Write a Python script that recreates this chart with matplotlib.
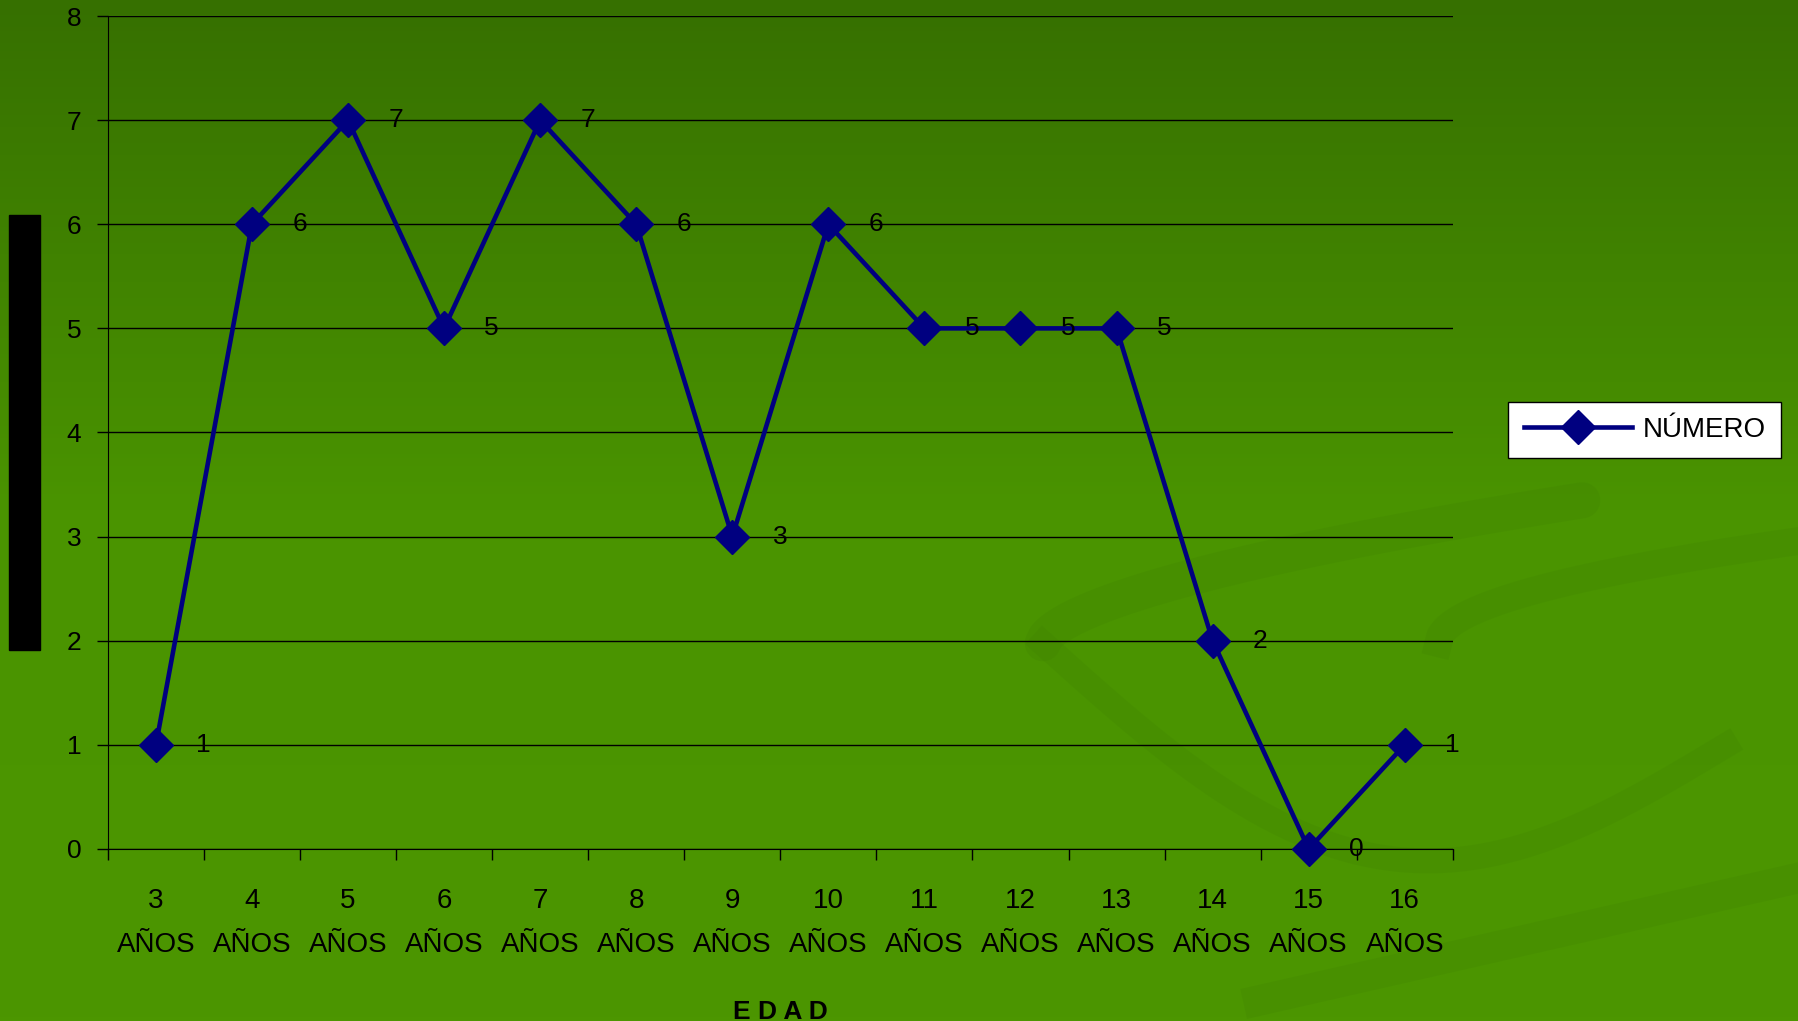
import numpy as np
import matplotlib.pyplot as plt
from matplotlib.patches import Rectangle
from matplotlib.colors import LinearSegmentedColormap

plt.rcParams['font.family'] = ['Liberation Sans', 'DejaVu Sans']

edades = ["3", "4", "5", "6", "7", "8", "9", "10", "11", "12", "13", "14", "15", "16"]
numero = [1, 6, 7, 5, 7, 6, 3, 6, 5, 5, 5, 2, 0, 1]
y_ticks = [0, 1, 2, 3, 4, 5, 6, 7, 8]

fig = plt.figure(figsize=(17.98, 10.21), dpi=100)

# green gradient background
bg = fig.add_axes([0, 0, 1, 1], zorder=-10)
grad = np.linspace(0, 1, 256).reshape(-1, 1)
cmap = LinearSegmentedColormap.from_list("g", ["#367000", "#4a9400", "#4c9600"])
bg.imshow(grad, aspect="auto", cmap=cmap, extent=[0, 1, 0, 1], origin="upper")
bg.set_xlim(0, 1)
bg.set_ylim(0, 1)
bg.axis("off")

# faint decorative swirls
t = np.linspace(0, 1, 200)
sw = "#3a7800"
bg.plot(0.58 + 0.3 * t, 0.37 + 0.14 * t ** 0.6, color=sw, lw=26, alpha=0.16, solid_capstyle="round")
bg.plot(0.58 + 0.38 * t, 0.37 - 0.16 * np.sin(np.pi * t) - 0.1 * t, color=sw, lw=18, alpha=0.15)
bg.plot(0.8 + 0.2 * t, 0.37 + 0.1 * t ** 0.5, color=sw, lw=20, alpha=0.15)
bg.plot(0.7 + 0.3 * t, 0.02 + 0.12 * t, color=sw, lw=22, alpha=0.16)

# black block at the left
bg.add_patch(Rectangle((8 / 1568, 1 - 567 / 890), 27 / 1568, 380 / 890, color="black"))

ax = fig.add_axes([0.060, 0.1685, 0.748, 0.8158])
ax.patch.set_alpha(0)
x = np.arange(len(edades))
ax.plot(x, numero, color="#000080", lw=3.3, marker="D", markersize=17, label="NÚMERO", zorder=5, clip_on=False)
for xi, v in zip(x, numero):
    ax.annotate(str(v), (xi, v), xytext=(29, 0), textcoords="offset points",
                ha="left", va="center", fontsize=19, color="black", zorder=6)

ax.set_xlim(-0.5, len(edades) - 0.5)
ax.set_ylim(0, 8)
ax.set_yticks(y_ticks)
ax.set_yticklabels([str(v) for v in y_ticks], fontsize=19)
ax.yaxis.grid(True, color="black", lw=1)
ax.set_axisbelow(True)
ax.set_xticks(np.arange(len(edades) + 1) - 0.5)
ax.set_xticklabels([])
ax.set_xticks(x, minor=True)
ax.set_xticklabels([e + "\n\nAÑOS" for e in edades], minor=True, fontsize=20, linespacing=0.8)
ax.tick_params(axis="x", which="minor", length=0, pad=28)
ax.tick_params(axis="x", which="major", length=8, width=1, direction="out")
ax.tick_params(axis="y", length=8, width=1, direction="out", pad=11)
for s in ["top", "right"]:
    ax.spines[s].set_visible(False)
ax.spines["left"].set_color("black")
ax.spines["bottom"].set_color("black")
ax.set_xlabel("E D A D", fontsize=19, fontweight="bold", labelpad=30)

leg = ax.legend(loc="center left", bbox_to_anchor=(1.031, 0.503), fontsize=20,
                frameon=True, fancybox=False, edgecolor="black", facecolor="white",
                framealpha=1, handlelength=3.9, borderpad=0.55, handletextpad=0.4)
leg.get_frame().set_linewidth(1)

fig.savefig("out.png", dpi=100)
